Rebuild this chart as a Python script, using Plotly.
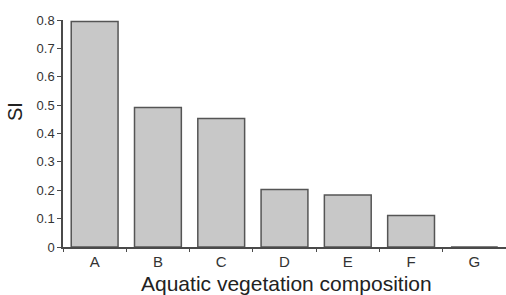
import plotly.graph_objects as go

categories = ["A", "B", "C", "D", "E", "F", "G"]
si_values = [0.795, 0.492, 0.453, 0.203, 0.183, 0.111, 0.0]
y_ticks = [0, 0.1, 0.2, 0.3, 0.4, 0.5, 0.6, 0.7, 0.8]
y_tick_labels = ["0", "0.1", "0.2", "0.3", "0.4", "0.5", "0.6", "0.7", "0.8"]

W, H = 506, 295
L, R, T, B = 63, 0, 20, 48
pw, ph = W - L - R, H - T - B
font = "Liberation Sans, Arial, sans-serif"
txt = "#333333"
axc = "#4a4a4a"

fig = go.Figure(go.Bar(
    x=categories, y=si_values,
    marker=dict(color="#c8c8c8", line=dict(color="#555555", width=1.5)),
))

fig.update_layout(
    width=W, height=H,
    margin=dict(l=L, r=R, t=T, b=B, pad=0),
    paper_bgcolor="white", plot_bgcolor="white",
    bargap=0.26, showlegend=False,
    font=dict(family=font, color=txt),
    xaxis=dict(
        type="category", tickson="boundaries", ticks="outside", ticklen=3,
        tickcolor=axc, tickwidth=1, showline=True, linecolor=axc, linewidth=1.5,
        showgrid=False, tickfont=dict(size=15, color=txt), range=[-0.5, 6.5],
    ),
    yaxis=dict(
        range=[0, 0.8], tickvals=y_ticks, ticktext=y_tick_labels,
        ticks="outside", ticklen=4, tickcolor=axc, tickwidth=1,
        showline=True, linecolor=axc, linewidth=1.5, showgrid=False, zeroline=False,
        tickfont=dict(size=13, color=txt),
    ),
    annotations=[
        dict(text="Aquatic vegetation composition", xref="paper", yref="paper",
             x=(286 - L) / pw, y=-(283 - (T + ph)) / ph, xanchor="center", yanchor="middle",
             showarrow=False, font=dict(size=21, color="#222222")),
        dict(text="SI", xref="paper", yref="paper", textangle=-90,
             x=(15 - L) / pw, y=(T + ph - 112) / ph, xanchor="center", yanchor="middle",
             showarrow=False, font=dict(size=20, color="#222222")),
    ],
)

fig.write_html("out.html", config={"displayModeBar": False},
               post_script="document.body.style.margin='0';document.body.style.overflow='hidden';")
